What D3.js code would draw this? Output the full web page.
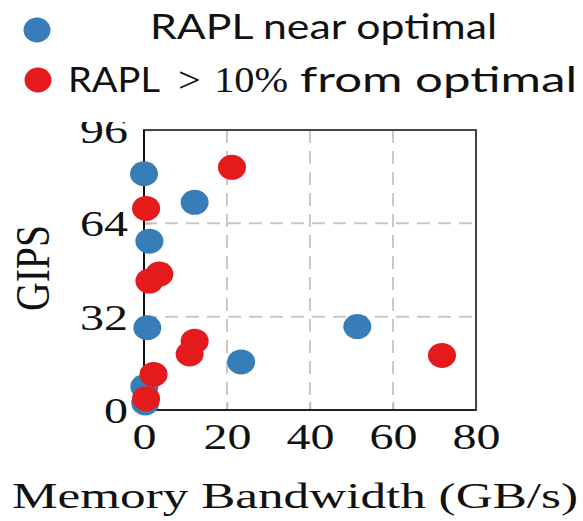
<!DOCTYPE html>
<html>
<head>
<meta charset="utf-8">
<script src="https://cdn.jsdelivr.net/npm/d3@7"></script>
<style>
  body { margin: 0; background: #fff; }
  svg { display: block; }
</style>
</head>
<body>
<svg id="chart" width="583" height="521"></svg>
<script>
// values
const nearX = [0, 12.2, 1.3, 0.8, 51.4, 23.4, 0.1, 0.3];
const nearY = [81, 71.2, 57.9, 28.2, 28.6, 16.5, 8, 2.4];
const farX = [21.2, 0.5, 1.3, 3.7, 12.2, 11, 2.3, 0.5, 71.8];
const farY = [83.2, 69.1, 44.2, 46.6, 23.6, 19.2, 12.2, 3.9, 18.7];
const xTicks = [0, 20, 40, 60, 80];
const yTicks = [0, 32, 64, 96];
const xGrid = [20, 40, 60];
const yGrid = [32, 64];

const blue = "#377eb8", red = "#e41a1c";

const svg = d3.select("#chart"),
    margin = {top: 130, right: 107, bottom: 111, left: 144},
    width = 583 - margin.left - margin.right,
    height = 521 - margin.top - margin.bottom,
    g = svg.append("g").attr("transform", "translate(" + margin.left + "," + margin.top + ")");

const x = d3.scaleLinear().domain([0, 80]).range([0, width]);
const y = d3.scaleLinear().domain([0, 96]).range([height, 0]);

// dashed grid
g.selectAll(".vgrid").data(xGrid).enter().append("line")
    .attr("x1", d => x(d)).attr("x2", d => x(d))
    .attr("y1", 0).attr("y2", height)
    .attr("stroke", "#c8c8c8").attr("stroke-width", 2)
    .attr("stroke-dasharray", "13,8");
g.selectAll(".hgrid").data(yGrid).enter().append("line")
    .attr("y1", d => y(d)).attr("y2", d => y(d))
    .attr("x1", 0).attr("x2", width)
    .attr("stroke", "#c8c8c8").attr("stroke-width", 2)
    .attr("stroke-dasharray", "13,8");

// axes, ticks point inward
const xAxis = g.append("g")
    .attr("transform", `translate(0, ${height})`)
    .call(d3.axisBottom(x).tickValues(xTicks).tickSizeInner(-8).tickSizeOuter(0).tickPadding(14));
const yAxis = g.append("g")
    .call(d3.axisLeft(y).tickValues(yTicks).tickSizeInner(-8).tickSizeOuter(0).tickPadding(16));

[xAxis, yAxis].forEach(a => {
    a.select(".domain").remove();
    a.selectAll(".tick line").attr("stroke", "#bbb").attr("stroke-width", 1.5);
    a.selectAll(".tick text")
        .attr("fill", "#111")
        .style("font-family", "'Liberation Serif', 'DejaVu Serif', serif")
        .style("font-size", "35px");
});
xAxis.selectAll(".tick text").attr("dy", "0.71em")
    .attr("textLength", d => String(d).length * 24).attr("lengthAdjust", "spacingAndGlyphs");
yAxis.selectAll(".tick text").attr("dy", "0.36em")
    .attr("textLength", d => String(d).length * 24).attr("lengthAdjust", "spacingAndGlyphs");

// frame
g.append("rect")
    .attr("width", width).attr("height", height)
    .attr("fill", "none").attr("stroke", "#444").attr("stroke-width", 2);
g.append("line").attr("x1", 0).attr("x2", 0).attr("y1", 0).attr("y2", height)
    .attr("stroke", "#111").attr("stroke-width", 2);
g.append("line").attr("x1", 0).attr("x2", width).attr("y1", height).attr("y2", height)
    .attr("stroke", "#222").attr("stroke-width", 2);

// points
const near = nearX.map((v, i) => ({x: v, y: nearY[i]}));
const far = farX.map((v, i) => ({x: v, y: farY[i]}));

g.selectAll(".near").data(near).enter().append("ellipse")
    .attr("cx", d => x(d.x)).attr("cy", d => y(d.y))
    .attr("rx", 14).attr("ry", 12.5).attr("fill", blue);
g.selectAll(".far").data(far).enter().append("ellipse")
    .attr("cx", d => x(d.x)).attr("cy", d => y(d.y))
    .attr("rx", 14).attr("ry", 12.5).attr("fill", red);

// axis titles
svg.append("text")
    .attr("x", 12).attr("y", 508)
    .attr("textLength", 566).attr("lengthAdjust", "spacingAndGlyphs")
    .style("font-family", "'Liberation Serif', serif").style("font-size", "36px")
    .attr("fill", "#111")
    .text("Memory Bandwidth (GB/s)");

svg.append("text")
    .attr("transform", "translate(49, 268) rotate(-90)")
    .attr("text-anchor", "middle")
    .attr("textLength", 86).attr("lengthAdjust", "spacingAndGlyphs")
    .style("font-family", "'Liberation Serif', serif").style("font-size", "48px")
    .attr("fill", "#111")
    .text("GIPS");

// legend on white, it trims the top of the 96
svg.append("rect").attr("x", 0).attr("y", 0).attr("width", 583).attr("height", 122).attr("fill", "#fff");

const legendFont = "Lato, 'Open Sans', sans-serif";
svg.append("ellipse").attr("cx", 37).attr("cy", 30).attr("rx", 13.5).attr("ry", 12.5).attr("fill", blue);
svg.append("text")
    .attr("x", 150).attr("y", 39)
    .attr("textLength", 347).attr("lengthAdjust", "spacingAndGlyphs")
    .style("font-family", legendFont).style("font-size", "35px").attr("fill", "#111")
    .text("RAPL near optimal");

svg.append("ellipse").attr("cx", 38).attr("cy", 80).attr("rx", 13.5).attr("ry", 12.5).attr("fill", red);
const row2 = svg.append("g").attr("fill", "#111").style("font-size", "35px");
row2.append("text").attr("x", 68).attr("y", 92)
    .attr("textLength", 92).attr("lengthAdjust", "spacingAndGlyphs")
    .style("font-family", legendFont).text("RAPL");
row2.append("text").attr("x", 178).attr("y", 92)
    .attr("textLength", 110).attr("lengthAdjust", "spacingAndGlyphs")
    .style("font-family", "'Liberation Serif', serif").style("font-size", "36px")
    .text(">\u200410%");
row2.append("text").attr("x", 300).attr("y", 92)
    .attr("textLength", 277).attr("lengthAdjust", "spacingAndGlyphs")
    .style("font-family", legendFont).text("from optimal");
</script>
</body>
</html>
